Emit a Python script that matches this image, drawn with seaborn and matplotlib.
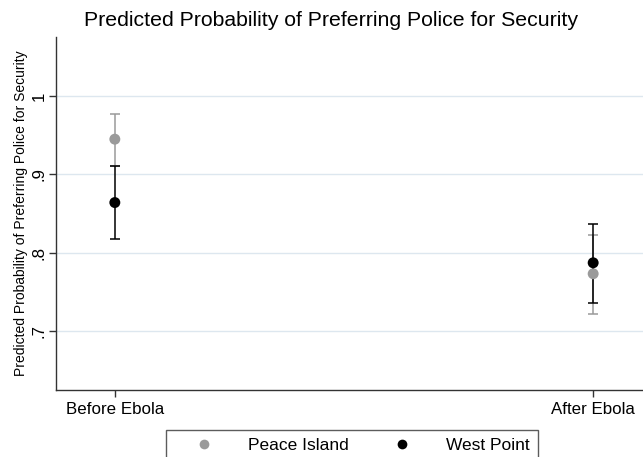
import seaborn as sns
import pandas as pd
import matplotlib.pyplot as plt
from matplotlib.lines import Line2D

periods = ["Before Ebola", "After Ebola"]
groups = ["Peace Island", "West Point"]
estimate = {"Peace Island": [0.945, 0.773], "West Point": [0.864, 0.787]}
lower = {"Peace Island": [0.911, 0.722], "West Point": [0.817, 0.736]}
upper = {"Peace Island": [0.977, 0.823], "West Point": [0.911, 0.836]}
colors = {"Peace Island": "#9a9a9a", "West Point": "#000000"}

rows = []
for g in groups:
    for i, p in enumerate(periods):
        rows.append({"period": p, "group": g, "est": estimate[g][i],
                     "lo": lower[g][i], "hi": upper[g][i]})
df = pd.DataFrame(rows)

sns.set_style("white")
plt.rcParams["font.family"] = ["Liberation Sans", "DejaVu Sans"]
plt.rcParams["text.color"] = "black"
plt.rcParams["axes.labelcolor"] = "black"

fig = plt.figure(figsize=(6.43, 4.57), dpi=100)
ax = fig.add_axes([56 / 643, 1 - 390 / 457, 596 / 643, 353 / 457])

for g in groups:
    sub = df[df["group"] == g]
    ax.errorbar(sub["period"], sub["est"],
                yerr=[sub["est"] - sub["lo"], sub["hi"] - sub["est"]],
                fmt="none", ecolor=colors[g], elinewidth=1.1, capsize=3.6, capthick=1.1)
sns.scatterplot(data=df, x="period", y="est", hue="group", palette=colors,
                s=62, edgecolor="none", legend=False, ax=ax, zorder=3)

ax.set_xlim(-0.123, 1.123)
ax.set_ylim(0.6244, 1.0756)
ax.set_yticks([0.7, 0.8, 0.9, 1.0])
ax.set_yticklabels([".7", ".8", ".9", "1"], rotation=90, va="center")
ax.yaxis.grid(True, color="#dde7ef", linewidth=1)
ax.set_axisbelow(True)
ax.tick_params(axis="both", direction="out", length=5, width=1, colors="#333333",
               labelcolor="black", labelsize=12.2, left=True, bottom=True)
ax.tick_params(axis="y", pad=2)
ax.set_xlabel("")
ax.set_ylabel("Predicted Probability of Preferring Police for Security", fontsize=10,
              labelpad=2)
for s in ["top", "right"]:
    ax.spines[s].set_visible(False)
for s in ["left", "bottom"]:
    ax.spines[s].set_color("#333333")
    ax.spines[s].set_linewidth(1)

fig.text(331 / 643, 1 - 20 / 457, "Predicted Probability of Preferring Police for Security",
         ha="center", va="center", fontsize=15.3, color="black")

handles = [Line2D([], [], marker="o", linestyle="none", markersize=7,
                  markerfacecolor=colors[g], markeredgecolor="none") for g in groups]
leg = fig.legend(handles, groups, loc="upper left", bbox_to_anchor=(166 / 643, 1 - 430 / 457),
                 ncol=2, frameon=True, fancybox=False, fontsize=12.5, handlelength=3.5,
                 handletextpad=0.8, columnspacing=1.3, borderpad=0.45, borderaxespad=0)
leg.get_frame().set_edgecolor("#333333")
leg.get_frame().set_linewidth(1)

fig.savefig("out.png", dpi=100)
